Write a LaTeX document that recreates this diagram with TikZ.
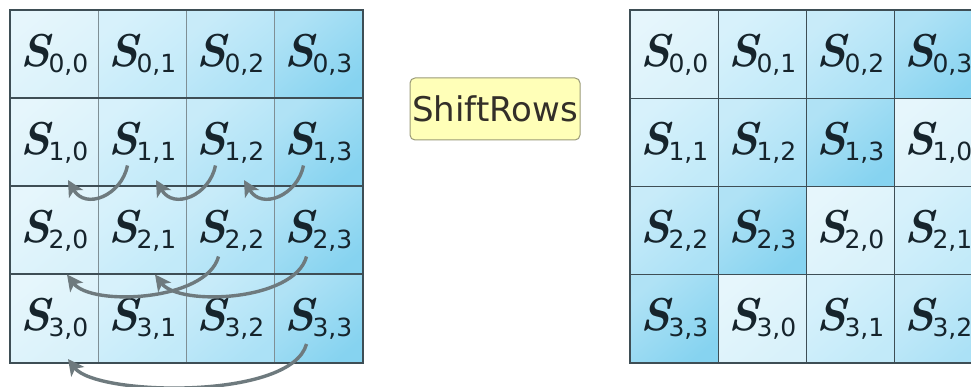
\documentclass[tikz,border=0pt]{standalone}
\usepackage{fontspec}
\usetikzlibrary{arrows.meta,calc}
\newfontfamily\subfont{DejaVu Sans}
\newfontfamily\labfont{DejaVu Sans}
\definecolor{col0}{HTML}{D8F1FA}
\definecolor{col1}{HTML}{C2EAF9}
\definecolor{col2}{HTML}{ABE1F6}
\definecolor{col3}{HTML}{86D3F0}
\definecolor{gridc}{HTML}{3E4E55}
\definecolor{gridv}{HTML}{7F8F95}
\definecolor{txtc}{HTML}{16242C}
\definecolor{arrc}{HTML}{6E7A7E}
\definecolor{boxfill}{HTML}{FFFFB8}
\definecolor{boxline}{HTML}{9A9A78}
\newcommand\sij[2]{{\fontsize{46}{46}\selectfont\bfseries\itshape S}\kern-2pt\raisebox{-6pt}{\subfont\fontsize{25}{25}\selectfont #1,#2}}
\tikzset{
  cell/.style={line width=1pt, minimum width=88pt, minimum height=88pt,
    inner sep=0pt, text=txtc, anchor=north west},
  outer/.style={draw=gridc, line width=1.8pt},
  hline/.style={draw=gridc, line width=1.8pt},
  shiftarrow/.style={draw=arrc, line width=3.4pt, -{Stealth[length=16pt,width=16pt,inset=4pt]}},
  shiftbox/.style={draw=boxline, fill=boxfill, line width=1pt, rounded corners=5pt,
    minimum width=170pt, minimum height=62pt, inner sep=0pt, text=black!85!olive,
    font=\labfont\fontsize{34}{34}\selectfont}
}
\begin{document}
\begin{tikzpicture}[x=1pt,y=-1pt]
\useasboundingbox (0,0) rectangle (971,387);
\clip (0,0) rectangle (971,387);
\fill[white] (0,0) rectangle (971,387);
% left grid
\foreach \r in {0,...,3}{
  \foreach \c in {0,...,3}{
    \node[cell, draw=gridv, top color=col\c!65!white, bottom color=col\c, shading angle=40]
      (L\r\c) at (10+88*\c,10+88*\r) {\sij{\r}{\c}};
  }
}
\foreach \r in {1,2,3}{
  \draw[hline] (L\r0.north west) -- (L\r3.north east);
}
\draw[outer] (L00.north west) rectangle (L33.south east);
% right grid
\foreach \r in {0,...,3}{
  \foreach \c in {0,...,3}{
    \pgfmathtruncatemacro\k{mod(\c+\r,4)}
    \node[cell, draw=gridc, top color=col\k!65!white, bottom color=col\k, shading angle=40]
      (R\r\c) at (630+88*\c,10+88*\r) {\sij{\r}{\k}};
  }
}
\draw[outer] (R00.north west) rectangle (R33.south east);
% label
\node[shiftbox] (sr) at (495,109) {ShiftRows};
% arrows row 1
\foreach \a/\b in {1/0,2/1,3/2}{
  \draw[shiftarrow] ($(L1\a.center)+(-15,23)$) .. controls ($(L1\a.center)+(-21,53)$) and ($(L1\b.center)+(31,68)$) .. ($(L1\b.center)+(13.5,37.5)$);
}
% arrows row 2
\foreach \a/\b in {2/0,3/1}{
  \draw[shiftarrow] ($(L2\a.center)+(-12,26)$) .. controls ($(L2\a.center)+(-24,71)$) and ($(L2\b.center)+(36.5,76)$) .. ($(L2\b.center)+(12.5,44)$);
}
% arrow row 3
\draw[shiftarrow] ($(L33.center)+(-12,25.5)$) .. controls ($(L33.center)+(-27,82)$) and ($(L30.center)+(41.5,77.5)$) .. ($(L30.center)+(13.5,40.5)$);
\end{tikzpicture}
\end{document}
